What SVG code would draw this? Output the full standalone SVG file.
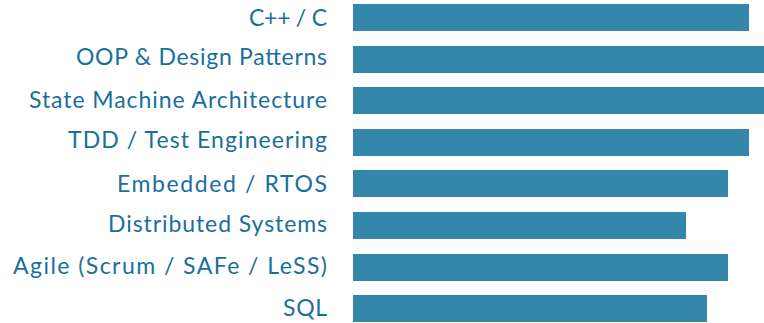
<svg xmlns="http://www.w3.org/2000/svg" width="764" height="323" viewBox="0 0 764 323">
<style>
.bar{fill:#3586ab}
.lbl{font-family:Lato,"Open Sans","Liberation Sans",sans-serif;font-size:23px;fill:#1a6f9c;text-anchor:end}
</style>
<rect width="764" height="323" fill="#ffffff"/>
<g id="row1"><text class="lbl" x="327" y="26" textLength="78" lengthAdjust="spacing">C++ / C</text><rect class="bar" x="353" y="4" width="396" height="27"/></g>
<g id="row2"><text class="lbl" x="327" y="65" textLength="251" lengthAdjust="spacing">OOP &amp; Design Patterns</text><rect class="bar" x="353" y="46" width="411" height="27"/></g>
<g id="row3"><text class="lbl" x="327" y="108" textLength="298" lengthAdjust="spacing">State Machine Architecture</text><rect class="bar" x="353" y="87" width="411" height="27"/></g>
<g id="row4"><text class="lbl" x="327" y="148" textLength="259" lengthAdjust="spacing">TDD / Test Engineering</text><rect class="bar" x="353" y="129" width="396" height="27"/></g>
<g id="row5"><text class="lbl" x="327" y="192" textLength="210" lengthAdjust="spacing">Embedded / RTOS</text><rect class="bar" x="353" y="170" width="375" height="27"/></g>
<g id="row6"><text class="lbl" x="327" y="232" textLength="219" lengthAdjust="spacing">Distributed Systems</text><rect class="bar" x="353" y="212" width="333" height="27"/></g>
<g id="row7"><text class="lbl" x="327" y="274" textLength="314" lengthAdjust="spacing">Agile (Scrum / SAFe / LeSS)</text><rect class="bar" x="353" y="254" width="375" height="27"/></g>
<g id="row8"><text class="lbl" x="327" y="316" textLength="44" lengthAdjust="spacing">SQL</text><rect class="bar" x="353" y="295" width="354" height="27"/></g>
</svg>
